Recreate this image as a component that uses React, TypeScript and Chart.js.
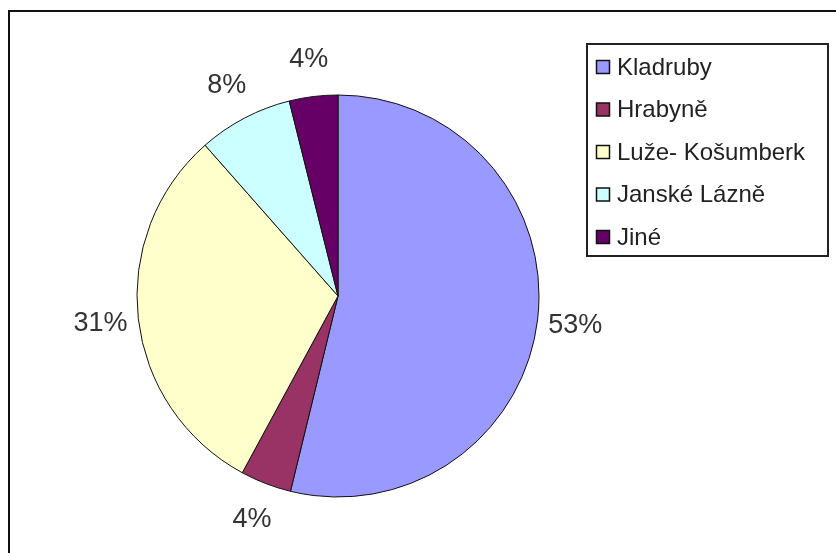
import React, { useEffect, useRef } from "react";
import { Chart, registerables } from "chart.js";

Chart.register(...registerables);

const categories = ["Kladruby", "Hrabyně", "Luže- Košumberk", "Janské Lázně", "Jiné"];
const shares = [53.8, 4.1, 30.6, 7.6, 3.9];
const percentLabels = ["53%", "4%", "31%", "8%", "4%"];
const sliceColors = ["#9999FF", "#993366", "#FFFFCC", "#CCFFFF", "#660066"];

const FONT = "'Liberation Sans', Arial, sans-serif";

const decorPlugin = {
  id: "decor",
  beforeDraw(chart: any) {
    const ctx = chart.ctx;
    ctx.save();
    ctx.fillStyle = "#ffffff";
    ctx.fillRect(0, 0, chart.width, chart.height);
    ctx.strokeStyle = "#111111";
    ctx.lineWidth = 2;
    ctx.beginPath();
    ctx.moveTo(9, chart.height);
    ctx.lineTo(9, 11);
    ctx.lineTo(chart.width, 11);
    ctx.stroke();
    ctx.restore();
  },
  afterDatasetsDraw(chart: any) {
    const ctx = chart.ctx;
    const meta = chart.getDatasetMeta(0);
    ctx.save();
    ctx.font = `27px ${FONT}`;
    ctx.fillStyle = "#333333";
    ctx.textAlign = "center";
    ctx.textBaseline = "middle";
    meta.data.forEach((arc: any, i: number) => {
      const p = arc.getProps(["x", "y", "startAngle", "endAngle", "outerRadius"], true);
      const mid = (p.startAngle + p.endAngle) / 2;
      const d = p.outerRadius + 38;
      ctx.fillText(percentLabels[i], p.x + Math.cos(mid) * d, p.y + Math.sin(mid) * d + 1);
    });
    ctx.restore();
  },
  afterDraw(chart: any) {
    const ctx = chart.ctx;
    const labels = chart.data.labels as string[];
    const colors = chart.data.datasets[0].backgroundColor as string[];
    ctx.save();
    // legend frame
    ctx.strokeStyle = "#222222";
    ctx.lineWidth = 2;
    ctx.strokeRect(587, 44, 241, 212);
    ctx.font = `24px ${FONT}`;
    ctx.textBaseline = "middle";
    ctx.textAlign = "left";
    labels.forEach((lab, i) => {
      const cy = 67 + i * 42.5;
      ctx.fillStyle = colors[i];
      ctx.fillRect(596.5, cy - 6.5, 13, 13);
      ctx.strokeStyle = "#111111";
      ctx.lineWidth = 1.5;
      ctx.strokeRect(596.5, cy - 6.5, 13, 13);
      ctx.fillStyle = "#222222";
      ctx.fillText(lab, 617, cy + 1);
    });
    ctx.restore();
  },
};

export default function App() {
  const ref = useRef<HTMLCanvasElement | null>(null);
  useEffect(() => {
    if (!ref.current) return;
    const chart = new Chart(ref.current, {
      type: "pie",
      data: {
        labels: categories,
        datasets: [
          {
            data: shares,
            backgroundColor: sliceColors,
            borderColor: "#111111",
            borderWidth: 1,
          },
        ],
      },
      options: {
        responsive: false,
        animation: false,
        layout: { padding: { left: 136.5, top: 94.5, right: 296.5, bottom: 55.5 } },
        plugins: {
          legend: { display: false },
          tooltip: { enabled: false },
        },
      },
      plugins: [decorPlugin],
    });
    return () => chart.destroy();
  }, []);
  return (
    <div style={{ position: "absolute", left: 0, top: 0, width: 836, height: 553, background: "#fff" }}>
      <canvas ref={ref} width={836} height={553} style={{ display: "block" }} />
    </div>
  );
}
